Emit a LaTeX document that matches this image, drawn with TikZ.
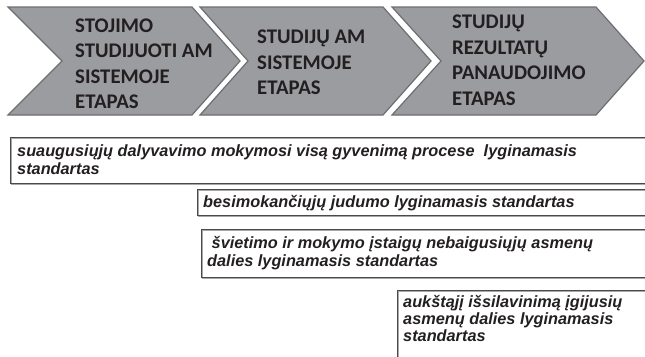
\documentclass[tikz,border=0pt]{standalone}
\usepackage{fontspec}
\setmainfont{Liberation Sans}
\newfontfamily\chevfont{Carlito}
\definecolor{chevfill}{HTML}{9B9CA0}
\definecolor{chevline}{HTML}{6D6E71}
\definecolor{ink}{HTML}{231F20}
\definecolor{boxline}{HTML}{4A4A4C}
\definecolor{boxshade}{HTML}{A8A8AA}
\begin{document}
\begin{tikzpicture}[x=1pt,y=-1pt,
  chev/.style={fill=chevfill,draw=chevline,line width=1.2pt,line join=miter},
  chevtext/.style={anchor=base west,inner sep=0pt,text=ink,
    font=\chevfont\bfseries\fontsize{20.8}{25.5}\selectfont},
  boxedge/.style={draw=boxline,line width=0.9pt},
  boxshadow/.style={draw=boxshade,line width=1pt},
  boxtext/.style={anchor=base west,inner sep=0pt,text=ink,
    font=\bfseries\itshape\fontsize{16.3}{18.3}\selectfont}]
\useasboundingbox (0,0) rectangle (645,356);
\clip (0,0) rectangle (645,356);
% chevrons
\draw[chev] (8,7) -- (192,7) -- (240,61) -- (192,115) -- (8,115) -- (62,61) -- cycle;
\draw[chev] (200,7) -- (383,7) -- (431,61) -- (383,115) -- (200,115) -- (248,61) -- cycle;
\draw[chev] (392,7) -- (596,7) -- (644,61) -- (596,115) -- (392,115) -- (441,61) -- cycle;
\node[chevtext] (c1) at (75,32) {\vtop{\hbox{STOJIMO}\hbox{STUDIJUOTI AM}\hbox{SISTEMOJE}\hbox{ETAPAS}}};
\node[chevtext] (c2) at (257,43.5) {\vtop{\hbox{STUDIJŲ AM}\hbox{SISTEMOJE}\hbox{ETAPAS}}};
\node[chevtext] (c3) at (452,28.5) {\vtop{\hbox{STUDIJŲ}\hbox{REZULTATŲ}\hbox{PANAUDOJIMO}\hbox{ETAPAS}}};
% open boxes (shadow first)
\draw[boxshadow] (660,138.5) -- (11.5,138.5) -- (11.5,184.5) -- (660,184.5);
\draw[boxedge] (660,137) -- (10,137) -- (10,183) -- (660,183);
\draw[boxshadow] (660,190.5) -- (198.5,190.5) -- (198.5,216.5) -- (660,216.5);
\draw[boxedge] (660,189) -- (197,189) -- (197,215) -- (660,215);
\draw[boxshadow] (660,230.5) -- (202.5,230.5) -- (202.5,278.5) -- (660,278.5);
\draw[boxedge] (660,229) -- (201,229) -- (201,277) -- (660,277);
\draw[boxshadow] (660,291.5) -- (398.5,291.5) -- (398.5,370);
\draw[boxedge] (660,290) -- (397,290) -- (397,370);
\node[boxtext] (b1) at (17,156) {\vtop{\hbox{suaugusiųjų dalyvavimo mokymosi visą gyvenimą procese\ \ lyginamasis}\hbox{standartas}}};
\node[boxtext] (b2) at (203,207) {besimokančiųjų judumo lyginamasis standartas};
\node[boxtext] (b3) at (207,248) {\vtop{\hbox{\ švietimo ir mokymo įstaigų nebaigusiųjų asmenų}\hbox{dalies lyginamasis standartas}}};
\node[boxtext] (b4) at (403,307) {\vtop{\baselineskip=17.3pt\hbox{aukštąjį išsilavinimą įgijusių}\hbox{asmenų dalies lyginamasis}\hbox{standartas}}};
\end{tikzpicture}
\end{document}
